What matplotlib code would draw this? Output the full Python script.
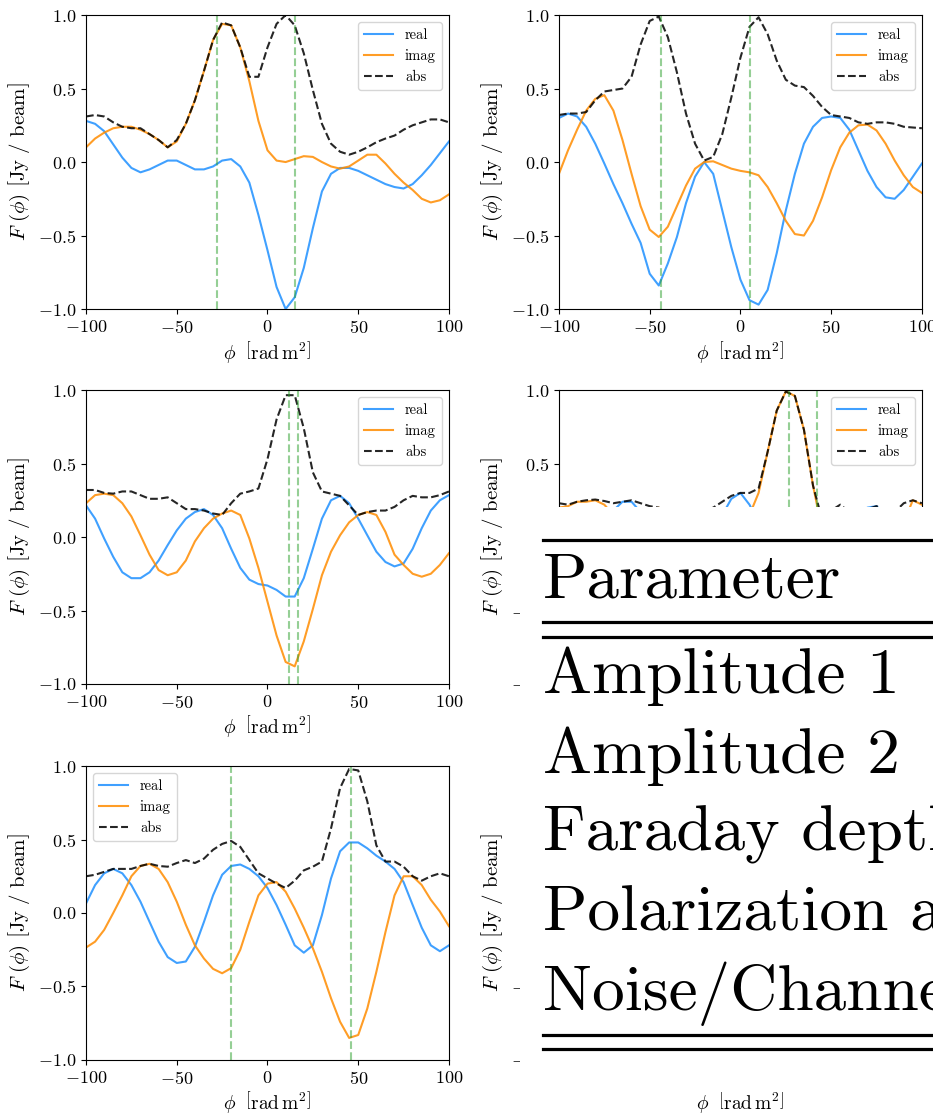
import numpy as np
import matplotlib
matplotlib.use("Agg")
import matplotlib.pyplot as plt
from matplotlib.patches import Rectangle
from matplotlib.lines import Line2D

plt.rcParams['font.family'] = 'serif'
plt.rcParams['font.serif'] = ['cmr10', 'DejaVu Serif']
plt.rcParams['mathtext.fontset'] = 'cm'
plt.rcParams['axes.formatter.use_mathtext'] = True
plt.rcParams['axes.unicode_minus'] = True

# Faraday depth grid (rad m^2)
phi = np.arange(-100, 101, 5)

# panel 1
real_1 = [0.28, 0.26, 0.21, 0.12, 0.03, -0.04, -0.07, -0.05, -0.02, 0.01,
          0.01, -0.02, -0.05, -0.05, -0.03, 0.01, 0.02, -0.03, -0.14, -0.36,
          -0.60, -0.85, -1.0, -0.92, -0.72, -0.45, -0.20, -0.08, -0.04, -0.04,
          -0.06, -0.09, -0.12, -0.15, -0.17, -0.18, -0.15, -0.09, -0.02, 0.06, 0.14]
imag_1 = [0.10, 0.16, 0.20, 0.23, 0.24, 0.24, 0.22, 0.19, 0.15, 0.10,
          0.14, 0.26, 0.42, 0.62, 0.83, 0.94, 0.93, 0.78, 0.55, 0.28,
          0.08, 0.01, 0.0, 0.02, 0.04, 0.035, 0.0, -0.03, -0.045, -0.03,
          0.01, 0.05, 0.05, -0.01, -0.08, -0.14, -0.19, -0.25, -0.275, -0.26, -0.22]
abs_1 = [0.31, 0.32, 0.31, 0.27, 0.24, 0.23, 0.23, 0.19, 0.15, 0.10,
         0.15, 0.26, 0.42, 0.62, 0.83, 0.95, 0.93, 0.78, 0.58, 0.58,
         0.78, 0.94, 1.0, 0.93, 0.74, 0.49, 0.26, 0.125, 0.07, 0.05,
         0.07, 0.10, 0.135, 0.16, 0.18, 0.22, 0.25, 0.27, 0.29, 0.29, 0.27]
peaks_1 = [-28, 15]

# panel 2
real_2 = [0.30, 0.33, 0.31, 0.24, 0.125, -0.01, -0.15, -0.28, -0.42, -0.55,
          -0.76, -0.84, -0.69, -0.51, -0.28, -0.10, 0.0, -0.08, -0.33, -0.58,
          -0.80, -0.94, -0.97, -0.87, -0.62, -0.33, -0.08, 0.125, 0.24, 0.30,
          0.31, 0.30, 0.22, 0.08, -0.06, -0.17, -0.24, -0.25, -0.19, -0.10, -0.01]
imag_2 = [-0.08, 0.08, 0.22, 0.35, 0.43, 0.455, 0.35, 0.15, -0.08, -0.30,
          -0.46, -0.51, -0.44, -0.30, -0.16, -0.045, 0.0, 0.005, -0.02, -0.045,
          -0.06, -0.07, -0.09, -0.17, -0.28, -0.40, -0.49, -0.50, -0.40, -0.24,
          -0.055, 0.10, 0.20, 0.25, 0.255, 0.215, 0.125, 0.01, -0.09, -0.17, -0.21]
abs_2 = [0.32, 0.33, 0.33, 0.34, 0.42, 0.48, 0.49, 0.50, 0.58, 0.80,
         0.96, 0.99, 0.85, 0.61, 0.33, 0.125, 0.01, 0.035, 0.19, 0.44,
         0.71, 0.92, 0.985, 0.87, 0.69, 0.56, 0.52, 0.51, 0.45, 0.375,
         0.32, 0.31, 0.30, 0.27, 0.26, 0.27, 0.27, 0.26, 0.24, 0.235, 0.23]
peaks_2 = [-44, 5]

# panel 3
real_3 = [0.215, 0.125, -0.01, -0.135, -0.24, -0.28, -0.28, -0.24, -0.16, -0.055,
          0.045, 0.125, 0.17, 0.19, 0.15, 0.06, -0.08, -0.21, -0.29, -0.32,
          -0.33, -0.36, -0.405, -0.405, -0.28, -0.08, 0.125, 0.25, 0.28, 0.23,
          0.125, 0.012, -0.10, -0.17, -0.20, -0.18, -0.08, 0.06, 0.18, 0.25, 0.285]
imag_3 = [0.23, 0.285, 0.295, 0.285, 0.23, 0.14, 0.012, -0.12, -0.225, -0.26,
          -0.24, -0.16, -0.03, 0.06, 0.125, 0.16, 0.18, 0.15, -0.01, -0.21,
          -0.44, -0.67, -0.85, -0.88, -0.71, -0.49, -0.26, -0.10, 0.012, 0.10,
          0.15, 0.17, 0.15, 0.035, -0.12, -0.19, -0.25, -0.27, -0.25, -0.19, -0.11]
abs_3 = [0.32, 0.32, 0.30, 0.295, 0.31, 0.31, 0.285, 0.26, 0.26, 0.27,
         0.23, 0.19, 0.19, 0.18, 0.16, 0.15, 0.23, 0.295, 0.31, 0.33,
         0.53, 0.80, 0.965, 0.965, 0.74, 0.44, 0.31, 0.295, 0.28, 0.215,
         0.15, 0.17, 0.18, 0.18, 0.205, 0.25, 0.28, 0.27, 0.27, 0.285, 0.31]
peaks_3 = [12, 17]

# panel 4 (lower part hidden behind the table)
real_4 = [0.10, 0.05, 0.0, -0.05, -0.02, 0.08, 0.18, 0.24, 0.24, 0.17,
          0.05, -0.08, -0.15, -0.12, -0.05, -0.02, -0.05, 0.0, 0.15, 0.26,
          0.30, 0.22, 0.10, -0.05, -0.05, -0.02, 0.02, 0.05, 0.02, -0.05,
          -0.10, -0.05, 0.05, 0.13, 0.20, 0.21, 0.15, 0.05, -0.05, -0.08, -0.05]
imag_4 = [0.20, 0.21, 0.24, 0.24, 0.25, 0.22, 0.15, 0.05, -0.05, 0.08,
          0.18, 0.20, 0.13, 0.05, -0.10, -0.15, -0.18, -0.20, -0.12, -0.05,
          0.02, 0.15, 0.30, 0.58, 0.86, 0.99, 0.96, 0.73, 0.35, 0.05,
          -0.15, -0.20, -0.15, -0.05, 0.05, 0.0, -0.10, -0.10, 0.10, 0.25, 0.22]
abs_4 = [0.23, 0.22, 0.24, 0.25, 0.255, 0.245, 0.23, 0.24, 0.25, 0.23,
         0.21, 0.20, 0.17, 0.15, 0.14, 0.16, 0.18, 0.20, 0.24, 0.28,
         0.30, 0.30, 0.33, 0.58, 0.86, 0.99, 0.96, 0.73, 0.35, 0.12,
         0.18, 0.22, 0.17, 0.14, 0.19, 0.21, 0.18, 0.17, 0.23, 0.25, 0.23]
peaks_4 = [27, 42]

# panel 5
real_5 = [0.065, 0.19, 0.27, 0.30, 0.27, 0.19, 0.077, -0.06, -0.195, -0.30,
          -0.34, -0.33, -0.23, -0.06, 0.12, 0.26, 0.32, 0.33, 0.30, 0.25,
          0.17, 0.054, -0.08, -0.22, -0.27, -0.22, -0.014, 0.235, 0.42, 0.48,
          0.48, 0.44, 0.39, 0.35, 0.30, 0.21, 0.054, -0.10, -0.22, -0.26, -0.22]
imag_5 = [-0.235, -0.195, -0.115, 0.0, 0.12, 0.25, 0.32, 0.335, 0.30, 0.21,
          0.077, -0.08, -0.22, -0.31, -0.38, -0.41, -0.375, -0.25, -0.06, 0.12,
          0.20, 0.21, 0.145, 0.03, -0.10, -0.24, -0.40, -0.58, -0.74, -0.85,
          -0.83, -0.65, -0.40, -0.13, 0.12, 0.25, 0.25, 0.19, 0.09, 0.01, -0.09]
abs_5 = [0.25, 0.26, 0.28, 0.30, 0.30, 0.30, 0.32, 0.335, 0.32, 0.315,
         0.34, 0.36, 0.34, 0.37, 0.43, 0.47, 0.49, 0.45, 0.36, 0.27,
         0.235, 0.20, 0.17, 0.22, 0.29, 0.315, 0.35, 0.575, 0.85, 0.98,
         0.97, 0.76, 0.46, 0.35, 0.35, 0.315, 0.25, 0.22, 0.25, 0.27, 0.25]
peaks_5 = [-20, 46]

panels = [
    (real_1, imag_1, abs_1, peaks_1, 'upper right'),
    (real_2, imag_2, abs_2, peaks_2, 'upper right'),
    (real_3, imag_3, abs_3, peaks_3, 'upper right'),
    (real_4, imag_4, abs_4, peaks_4, 'upper right'),
    (real_5, imag_5, abs_5, peaks_5, 'upper left'),
]

table_rows = ["Amplitude 1", "Amplitude 2", "Faraday depth",
              "Polarization angle", "Noise/Channel"]

fig = plt.figure(figsize=(9.33, 11.16), dpi=100)

lefts = [0.0922, 0.5991]
bottoms = [0.7231, 0.3871, 0.0502]
w, h = 0.389, 0.2634

axes = []
for r in range(3):
    for c in range(2):
        axes.append(fig.add_axes([lefts[c], bottoms[r], w, h]))

for i, ax in enumerate(axes):
    if i < len(panels):
        re, im, ab, pk, loc = panels[i]
        ax.plot(phi, re, color='dodgerblue', alpha=0.85, lw=1.5, label='real')
        ax.plot(phi, im, color='darkorange', alpha=0.85, lw=1.5, label='imag')
        ax.plot(phi, ab, color='black', alpha=0.85, lw=1.5, ls='--', label='abs')
        for p in pk:
            ax.axvline(p, color='tab:green', alpha=0.5, ls='--', lw=1.5)
        ax.legend(loc=loc, fontsize=10.5)
    ax.set_xlim(-100, 100)
    ax.set_ylim(-1, 1)
    ax.set_xticks([-100, -50, 0, 50, 100])
    ax.set_yticks([-1.0, -0.5, 0.0, 0.5, 1.0])
    ax.tick_params(labelsize=13)
    ax.set_xlabel(r'$\phi\ \ \left[\mathrm{rad\,m^2}\right]$', fontsize=14, labelpad=2)
    ax.set_ylabel(r'$F\ (\phi)\ \left[\mathrm{Jy\ /\ beam}\right]$', fontsize=15)

# table overlay
W, H = 933.0, 1116.0
fig.patches.append(Rectangle((520 / W, 1 - 1092 / H), 1 - 520 / W, (1092 - 507) / H,
                             transform=fig.transFigure, facecolor='white',
                             edgecolor='none', zorder=10))
for yy in [540, 622, 637, 1035, 1049]:
    fig.lines.append(Line2D([543 / W, 1.0], [1 - yy / H, 1 - yy / H],
                            transform=fig.transFigure, color='black', lw=2.3, zorder=11))
fig.text(543 / W, 1 - 597 / H, "Parameter", fontsize=47, va='baseline', zorder=12)
for name, yb in zip(table_rows, [693, 773, 850, 930, 1010]):
    fig.text(543 / W, 1 - yb / H, name, fontsize=47, va='baseline', zorder=12)

fig.savefig('out.png', dpi=100)
